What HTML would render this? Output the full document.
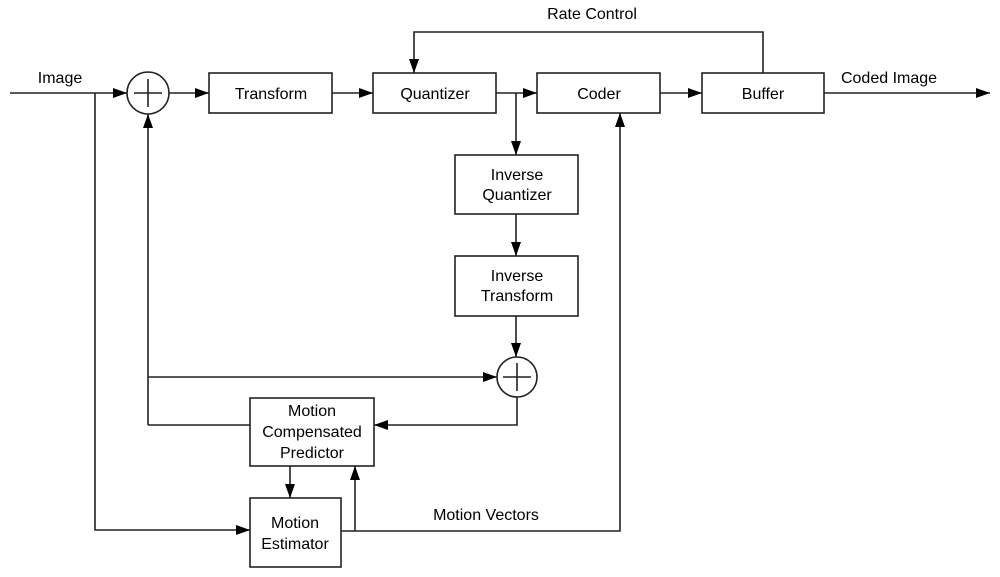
<!DOCTYPE html>
<html><head><meta charset="utf-8"><style>
html,body{margin:0;padding:0;background:#fff;}
svg{display:block;}
text{font-family:"Liberation Sans",Arial,sans-serif;font-size:16px;fill:#000;}
</style></head><body>
<svg width="1000" height="577" viewBox="0 0 1000 577" xmlns="http://www.w3.org/2000/svg">
<defs>
<marker id="a" viewBox="0 0 14 10" refX="14" refY="5" markerWidth="14" markerHeight="10" markerUnits="userSpaceOnUse" orient="auto">
<path d="M0,0 L14,5 L0,10 z" fill="#000"/></marker>
</defs>
<g stroke="#222" stroke-width="1.6" fill="none">
<rect x="209" y="73" width="123" height="40"/>
<rect x="373" y="73" width="123" height="40"/>
<rect x="537" y="73" width="123" height="40"/>
<rect x="702" y="73" width="122" height="40"/>
<rect x="455" y="155" width="123" height="59"/>
<rect x="455" y="256" width="123" height="60"/>
<rect x="250" y="398" width="124" height="68"/>
<rect x="250" y="498" width="91" height="69"/>
<circle cx="148" cy="93" r="21"/>
<path d="M134,93 H162 M148,79 V107"/>
<circle cx="517" cy="377" r="20"/>
<path d="M503,377 H531 M517,363 V391"/>
<!-- main path -->
<path d="M10,93 H127" marker-end="url(#a)"/>
<path d="M169,93 H209" marker-end="url(#a)"/>
<path d="M332,93 H373" marker-end="url(#a)"/>
<path d="M496,93 H537" marker-end="url(#a)"/>
<path d="M660,93 H702" marker-end="url(#a)"/>
<path d="M824,93 H990" marker-end="url(#a)"/>
<!-- rate control -->
<path d="M763,73 V32 H414 V73" marker-end="url(#a)"/>
<!-- inverse path -->
<path d="M516,93 V155" marker-end="url(#a)"/>
<path d="M516,214 V256" marker-end="url(#a)"/>
<path d="M516,316 V357" marker-end="url(#a)"/>
<!-- feedback -->
<path d="M148,425 V114" marker-end="url(#a)"/>
<path d="M148,377 H497" marker-end="url(#a)"/>
<path d="M148,425 H250"/>
<path d="M517,397 V425 H374" marker-end="url(#a)"/>
<!-- image to estimator -->
<path d="M95,93 V530 H250" marker-end="url(#a)"/>
<path d="M290,466 V498" marker-end="url(#a)"/>
<path d="M341,531 H620 V113" marker-end="url(#a)"/>
<path d="M355,531 V466" marker-end="url(#a)"/>
</g>
<g text-anchor="middle">
<text x="60" y="83">Image</text>
<text x="271" y="99">Transform</text>
<text x="435" y="99">Quantizer</text>
<text x="599" y="99">Coder</text>
<text x="763" y="99">Buffer</text>
<text x="592" y="19">Rate Control</text>
<text x="889" y="83">Coded Image</text>
<text x="517" y="180">Inverse</text>
<text x="517" y="200">Quantizer</text>
<text x="517" y="281">Inverse</text>
<text x="517" y="301">Transform</text>
<text x="312" y="416">Motion</text>
<text x="312" y="437">Compensated</text>
<text x="312" y="458">Predictor</text>
<text x="295" y="528">Motion</text>
<text x="295" y="549">Estimator</text>
<text x="486" y="520">Motion Vectors</text>
</g>
</svg>
</body></html>
